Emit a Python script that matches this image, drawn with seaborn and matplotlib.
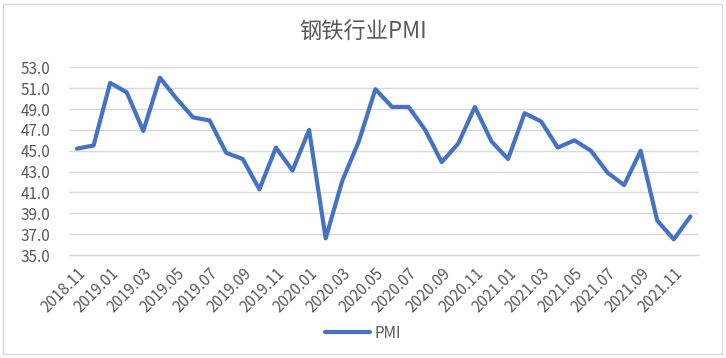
import matplotlib
matplotlib.use("Agg")
import matplotlib.pyplot as plt
import seaborn as sns
import pandas as pd
import numpy as np
from matplotlib.patches import Rectangle

months = ["2018.11", "2018.12",
          "2019.01", "2019.02", "2019.03", "2019.04", "2019.05", "2019.06",
          "2019.07", "2019.08", "2019.09", "2019.10", "2019.11", "2019.12",
          "2020.01", "2020.02", "2020.03", "2020.04", "2020.05", "2020.06",
          "2020.07", "2020.08", "2020.09", "2020.10", "2020.11", "2020.12",
          "2021.01", "2021.02", "2021.03", "2021.04", "2021.05", "2021.06",
          "2021.07", "2021.08", "2021.09", "2021.10", "2021.11", "2021.12"]
pmi = [45.2, 45.5,
       51.5, 50.6, 46.9, 52.0, 50.0, 48.2,
       47.9, 44.8, 44.2, 41.3, 45.3, 43.1,
       47.0, 36.6, 42.1, 45.9, 50.9, 49.2,
       49.2, 47.0, 43.9, 45.7, 49.2, 45.9,
       44.2, 48.6, 47.8, 45.3, 46.0, 45.0,
       42.9, 41.7, 45.0, 38.3, 36.5, 38.7]
title = "钢铁行业PMI"
series_name = "PMI"

sns.set_theme(style="white")
plt.rcParams['font.family'] = ['Noto Sans CJK SC', 'DejaVu Sans']

df = pd.DataFrame({"pos": np.arange(len(months)), "PMI": pmi})

fig = plt.figure(figsize=(7.26, 3.58), dpi=100)
ax = fig.add_axes([68.7/726, 1 - 255/358, (698.7-68.7)/726, (255-67.3)/358])

sns.lineplot(data=df, x="pos", y="PMI", ax=ax, color="#4472C4", linewidth=3,
             label=series_name, legend=False)

ax.set_xlim(-0.5, len(months) - 0.5)
ax.set_ylim(35, 53)
yt = np.arange(35, 54, 2)
ax.set_yticks(yt)
ax.set_yticklabels([f"{v:.1f}" for v in yt], color="#595959", fontsize=11)
ax.yaxis.grid(True, color="#D9D9D9", linewidth=1)
ax.set_axisbelow(True)
xt = np.arange(0, len(months), 2)
ax.set_xticks(xt)
ax.set_xticklabels([months[i] for i in xt], rotation=45, ha="right",
                   rotation_mode="anchor", color="#595959", fontsize=11)
ax.tick_params(axis="y", length=0, pad=13)
ax.tick_params(axis="x", length=0, pad=7)
for s in ["top", "right", "left"]:
    ax.spines[s].set_visible(False)
ax.spines["bottom"].set_color("#D9D9D9")
ax.spines["bottom"].set_linewidth(1)
ax.set_xlabel("")
ax.set_ylabel("")

fig.text(0.5, 1 - 32/358, title, ha="center", va="center", fontsize=16,
         color="#595959")

handles, labels = ax.get_legend_handles_labels()
leg = fig.legend(handles, labels, loc="center", bbox_to_anchor=(0.5, 1 - 333/358),
                 frameon=False, fontsize=11, handlelength=3.0, handletextpad=0.3)
for t in leg.get_texts():
    t.set_color("#595959")

fig.patches.append(Rectangle((3/726, 1 - 354/358), 719/726, 350/358,
                             transform=fig.transFigure, fill=False,
                             edgecolor="#D9D9D9", linewidth=1))

fig.savefig("out.png", dpi=100)
